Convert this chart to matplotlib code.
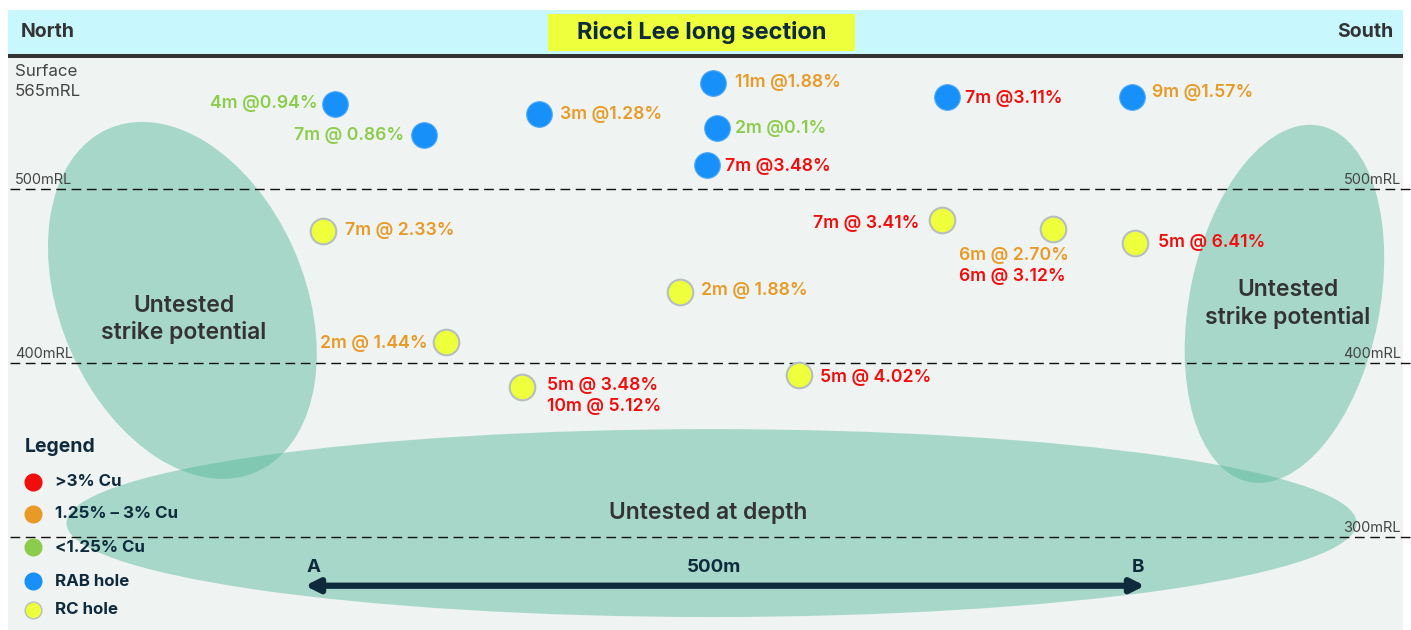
import matplotlib
matplotlib.use("Agg")
import matplotlib.pyplot as plt
from matplotlib.patches import Rectangle, Ellipse

plt.rcParams['font.family'] = ['Inter', 'DejaVu Sans']

# Drill holes on the long section: x = metres along section from A, y = elevation (mRL)
rab_x = [18, 71, 139, 243, 245, 239, 382, 492]
rab_y = [549, 531, 543, 561, 535, 514, 553, 553]
rab_labels = [["4m @0.94%"], ["7m @ 0.86%"], ["3m @1.28%"], ["11m @1.88%"],
              ["2m @0.1%"], ["7m @3.48%"], ["7m @3.11%"], ["9m @1.57%"]]
rab_grades = [[0.94], [0.86], [1.28], [1.88], [0.1], [3.48], [3.11], [1.57]]

rc_x = [11, 84, 129, 223, 294, 379, 445, 494]
rc_y = [476, 412, 386, 441, 393, 482, 477, 469]
rc_labels = [["7m @ 2.33%"], ["2m @ 1.44%"], ["5m @ 3.48%", "10m @ 5.12%"],
             ["2m @ 1.88%"], ["5m @ 4.02%"], ["7m @ 3.41%"],
             ["6m @ 2.70%", "6m @ 3.12%"], ["5m @ 6.41%"]]
rc_grades = [[2.33], [1.44], [3.48, 5.12], [1.88], [4.02], [3.41], [2.70, 3.12], [6.41]]

# label placement (pixel offsets from the hole)
rab_offsets = [(-18, 0, 'right'), (-20, 0, 'right'), (21, 0, 'left'), (22, 0, 'left'),
               (18, 0, 'left'), (18, -2, 'left'), (18, -2, 'left'), (20, 4, 'left')]
rc_offsets = [(22, 0, 'left'), (-18, -1, 'right'), (25, 2, 'left'), (21, 1, 'left'),
              (21, -2, 'left'), (-22, -3, 'right'), (-94, -26, 'left'), (23, 0, 'left')]

rl_levels = [500, 400, 300]
scale_length = 500
scale_y = 272

# untested zones: centre x, centre y, width, height, angle
zone_x = [-73, 583, 242]
zone_y = [436, 434, 308]
zone_w = [145, 113, 768]
zone_h = [216, 209, 108]
zone_angle = [25, -12, 0]
zone_text = ["Untested\nstrike potential", "Untested\nstrike potential", "Untested at depth"]
zone_text_xy = [(-72, 425), (585, 434), (240, 314)]

legend_labels = [">3% Cu", "1.25% \u2013 3% Cu", "<1.25% Cu", "RAB hole", "RC hole"]

RED = "#f20d0d"
ORANGE = "#e89a26"
GREEN = "#8ccc4c"
BLUE = "#1890fa"
YELLOW = "#eeff3c"
NAVY = "#0e2a3d"
DARK = "#333333"


def grade_color(g):
    if g > 3:
        return RED
    if g >= 1.25:
        return ORANGE
    return GREEN


W, H = 1411, 630
fig = plt.figure(figsize=(W / 100, H / 100), dpi=100)


def fx(px):
    return px / W


def fy(py):
    return 1 - py / H


# background panels
fig.patches.append(Rectangle((fx(8), 0), fx(1403) - fx(8), fy(57), transform=fig.transFigure,
                             facecolor="#eff3f2", edgecolor="none", zorder=-3))
fig.patches.append(Rectangle((fx(8), fy(55)), fx(1403) - fx(8), fy(10) - fy(55), transform=fig.transFigure,
                             facecolor="#c8f8fd", edgecolor="none", zorder=-3))
fig.patches.append(Rectangle((fx(8), fy(58)), fx(1403) - fx(8), fy(54) - fy(58), transform=fig.transFigure,
                             facecolor=DARK, edgecolor="none", zorder=-2))
fig.patches.append(Rectangle((fx(548), fy(51)), fx(855) - fx(548), fy(14) - fy(51), transform=fig.transFigure,
                             facecolor=YELLOW, edgecolor="none", zorder=-2))

ax = fig.add_axes([0, 0, 1, 1])
ax.set_facecolor("none")
ax.set_xlim((0 - 305) / 1.68, (W - 305) / 1.68)
ax.set_ylim(500 - (H - 189) / 1.74, 500 + 189 / 1.74)
ax.axis("off")

fig.text(fx(548 + 307 / 2), fy(32), "Ricci Lee long section", ha="center", va="center",
         fontsize=17, fontweight="bold", color=NAVY)
fig.text(fx(21), fy(32), "North", ha="left", va="center", fontsize=14, fontweight="bold", color=DARK)
fig.text(fx(1393), fy(32), "South", ha="right", va="center", fontsize=14, fontweight="bold", color=DARK)
fig.text(fx(15), fy(72), "Surface", ha="left", va="center", fontsize=12.2, color="#444444")
fig.text(fx(15), fy(91), "565mRL", ha="left", va="center", fontsize=12.2, color="#444444")

# zones
for i in range(len(zone_x)):
    ax.add_patch(Ellipse((zone_x[i], zone_y[i]), zone_w[i], zone_h[i], angle=zone_angle[i],
                         facecolor="#51b795", alpha=0.45, edgecolor="none", zorder=1))
    ax.text(zone_text_xy[i][0], zone_text_xy[i][1], zone_text[i], ha="center", va="center",
            fontsize=16.5, fontweight="semibold", color=DARK, linespacing=1.25, zorder=3)

# RL lines
for lv in rl_levels:
    ax.axhline(lv, xmin=fx(10), xmax=1, color="#111111", lw=1, ls=(0, (7, 4)), zorder=2)
    ax.text(fx(1401), lv + 1, f"{lv}mRL", transform=ax.get_yaxis_transform(), ha="right", va="bottom",
            fontsize=10.5, color="#444444", zorder=3)
    if lv != 300:
        ax.text(fx(15), lv + 1, f"{lv}mRL", transform=ax.get_yaxis_transform(), ha="left", va="bottom",
                fontsize=10.5, color="#444444", zorder=3)

# holes
ax.scatter(rab_x, rab_y, s=340, color=BLUE, edgecolor="#4aa8fb", linewidth=0.8, zorder=4)
ax.scatter(rc_x, rc_y, s=340, color=YELLOW, edgecolor="#b5bfc0", linewidth=1.5, zorder=4)


def put_labels(xs, ys, labels, grades, offsets):
    for x, y, labs, grs, (dx, dy, ha) in zip(xs, ys, labels, grades, offsets):
        for k, (lab, g) in enumerate(zip(labs, grs)):
            ax.annotate(lab, (x, y), xytext=(dx, dy - 21 * k), textcoords="offset pixels",
                        ha=ha, va="center", fontsize=12.7, fontweight="semibold",
                        color=grade_color(g), zorder=5)


put_labels(rab_x, rab_y, rab_labels, rab_grades, rab_offsets)
put_labels(rc_x, rc_y, rc_labels, rc_grades, rc_offsets)

# scale bar A-B
ax.annotate("", xy=(0, scale_y), xytext=(scale_length, scale_y),
            arrowprops=dict(arrowstyle="<|-|>", lw=4.5, color=NAVY, mutation_scale=20,
                            shrinkA=0, shrinkB=0), zorder=5)
ax.annotate("A", (0, scale_y), xytext=(9, 18), textcoords="offset pixels", ha="center",
            va="center", fontsize=13.5, fontweight="bold", color=NAVY)
ax.annotate("B", (scale_length, scale_y), xytext=(-7, 18), textcoords="offset pixels", ha="center",
            va="center", fontsize=13.5, fontweight="bold", color=NAVY)
ax.annotate(f"{scale_length}m", (scale_length / 2, scale_y), xytext=(-11, 18), textcoords="offset pixels",
            ha="center", va="center", fontsize=13.5, fontweight="bold", color=NAVY)

# legend
fig.text(fx(25), fy(447), "Legend", ha="left", va="center", fontsize=14, fontweight="bold", color=NAVY)
leg_colors = [RED, ORANGE, GREEN, BLUE, YELLOW]
leg_y = [482, 514, 547, 581, 610]
for lab, c, py in zip(legend_labels, leg_colors, leg_y):
    ec = "#b5bfc0" if c == YELLOW else c
    fig.lines.append(plt.Line2D([fx(33)], [fy(py)], marker="o", markersize=12, color=c,
                                markeredgecolor=ec, markeredgewidth=1, transform=fig.transFigure))
    fig.text(fx(55), fy(py), lab, ha="left", va="center", fontsize=12.2, fontweight="bold", color=NAVY)

fig.savefig("out.png", dpi=100, facecolor="white")
